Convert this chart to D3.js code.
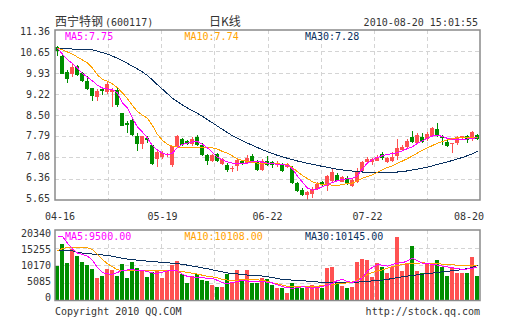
<!DOCTYPE html>
<html><head><meta charset="utf-8">
<script src="https://cdn.jsdelivr.net/npm/d3@7/dist/d3.min.js"></script>
<style>
html,body{margin:0;padding:0;background:#fff;}
svg{display:block;}
text{font-family:"DejaVu Sans Mono",monospace;font-size:10px;}
</style></head><body>
<svg id="chart" width="505" height="330"></svg>
<script>
// Daily K-line of 西宁特钢 (600117), 2010-04-16 .. 2010-08-20
const opens  = [10.78,10.50,9.95,9.89,10.14,9.92,9.66,9.41,9.10,9.37,9.27,9.27,9.36,8.57,8.23,8.35,7.81,7.54,7.73,7.51,
                7.03,7.08,7.15,6.84,7.45,7.70,7.62,7.54,7.76,7.51,7.15,6.97,7.21,6.86,6.84,6.69,6.78,6.95,6.89,7.14,
                6.97,6.67,6.95,6.92,6.82,6.84,6.75,6.72,6.22,5.99,5.81,5.86,6.03,6.25,6.11,6.28,6.50,6.27,6.38,6.12,
                6.27,6.63,6.91,6.91,6.97,7.21,6.94,6.97,7.13,7.33,7.42,7.78,7.58,7.76,7.69,7.80,8.03,7.79,7.61,7.52,
                7.55,7.72,7.81,7.69,7.82];
const closes = [10.66,9.89,9.72,10.12,9.86,9.64,9.38,9.13,9.32,9.30,9.56,9.36,8.83,8.15,8.16,7.84,7.54,7.81,7.65,6.87,
                7.25,7.22,7.18,7.45,7.79,7.51,7.54,7.70,7.51,7.17,6.97,7.17,6.97,7.02,6.67,6.71,6.98,6.86,7.06,6.95,
                6.67,6.97,6.84,6.82,6.90,6.62,6.86,6.22,5.96,5.83,5.92,6.03,6.20,6.18,6.45,6.58,6.30,6.42,6.21,6.32,
                6.63,6.94,7.02,7.02,7.10,7.05,7.05,7.10,7.39,7.44,7.64,7.61,7.83,7.61,7.86,8.06,7.80,7.72,7.46,7.57,
                7.75,7.80,7.68,7.93,7.70];
const highs  = [10.83,10.52,10.00,10.21,10.20,9.96,9.80,9.41,9.37,9.41,9.60,9.41,9.41,8.57,8.29,8.40,7.90,7.81,7.79,7.51,
                7.28,7.28,7.22,7.45,7.84,7.73,7.68,7.76,7.84,7.56,7.19,7.19,7.24,7.07,6.89,6.79,7.02,7.00,7.17,7.19,
                7.00,7.02,7.12,6.97,6.95,6.89,6.89,6.79,6.25,6.05,5.96,6.07,6.25,6.28,6.50,6.70,6.55,6.47,6.44,6.38,
                6.71,6.96,7.10,7.05,7.17,7.25,7.10,7.25,7.69,7.50,7.69,7.97,7.89,7.89,7.92,8.11,8.23,7.83,7.69,7.57,
                7.80,7.80,7.84,7.97,7.86];
const lows   = [10.48,9.89,9.58,9.79,9.80,9.60,9.35,8.99,8.98,9.17,9.20,8.77,8.77,8.15,7.90,7.81,7.29,7.37,7.56,6.83,
                6.75,7.04,7.10,6.75,7.42,7.45,7.51,7.45,7.45,7.14,6.84,6.94,6.94,6.82,6.59,6.59,6.62,6.82,6.86,6.92,
                6.62,6.62,6.80,6.72,6.75,6.59,6.72,6.18,5.93,5.80,5.65,5.72,6.00,6.13,5.96,6.25,6.28,6.24,6.17,6.08,
                6.23,6.59,6.86,6.82,6.96,7.00,6.90,6.94,6.99,7.28,7.39,7.58,7.55,7.58,7.64,7.77,7.75,7.50,7.42,7.22,
                7.49,7.69,7.56,7.64,7.66];

// price moving averages
const ma5  = [10.75,10.55,10.36,10.24,10.08,9.90,9.77,9.65,9.50,9.41,9.38,9.36,9.25,8.90,8.74,8.40,8.10,7.93,7.73,7.47,
              7.33,7.22,7.17,7.22,7.42,7.52,7.56,7.60,7.62,7.52,7.40,7.25,7.08,7.00,6.93,6.89,6.87,6.86,6.88,6.95,
              6.95,6.92,6.89,6.87,6.85,6.83,6.82,6.70,6.45,6.25,6.05,5.98,6.02,6.10,6.16,6.24,6.30,6.34,6.36,6.38,
              6.47,6.70,6.90,7.00,7.08,7.14,7.18,7.21,7.24,7.30,7.38,7.44,7.55,7.64,7.72,7.80,7.83,7.78,7.72,7.69,
              7.69,7.69,7.70,7.72,7.75];
const ma10 = [10.74,10.70,10.62,10.55,10.45,10.35,10.25,10.08,9.85,9.70,9.64,9.55,9.42,9.25,9.05,8.82,8.62,8.50,8.40,8.15,
              7.85,7.65,7.52,7.46,7.43,7.42,7.42,7.41,7.40,7.40,7.40,7.40,7.36,7.28,7.22,7.13,7.03,6.98,6.95,6.92,
              6.89,6.89,6.88,6.88,6.87,6.85,6.83,6.74,6.60,6.47,6.37,6.26,6.20,6.17,6.16,6.15,6.14,6.17,6.20,6.22,
              6.30,6.38,6.44,6.50,6.58,6.67,6.74,6.80,6.88,6.96,7.04,7.13,7.23,7.32,7.40,7.48,7.56,7.62,7.67,7.71,
              7.74,7.75,7.75,7.74,7.74];
const ma30 = [10.73,10.73,10.73,10.72,10.72,10.72,10.71,10.69,10.65,10.60,10.55,10.48,10.41,10.33,10.24,10.14,10.05,9.95,9.83,9.68,
              9.52,9.37,9.22,9.07,8.95,8.84,8.74,8.65,8.56,8.46,8.35,8.24,8.13,8.02,7.91,7.81,7.72,7.64,7.56,7.49,
              7.41,7.34,7.27,7.21,7.15,7.10,7.05,7.01,6.96,6.92,6.88,6.85,6.81,6.78,6.75,6.71,6.68,6.66,6.64,6.62,
              6.60,6.59,6.58,6.58,6.58,6.58,6.58,6.58,6.59,6.60,6.63,6.66,6.69,6.72,6.75,6.80,6.85,6.89,6.93,6.98,
              7.03,7.08,7.14,7.20,7.28];

// daily volume and its moving averages
const volumes = [9980,16160,10840,14730,12740,11120,10170,9030,6560,7130,9030,8745,7030,10455,6560,11120,9505,8555,6845,8270,
                 8745,6560,8900,10200,11300,7600,4940,7030,7600,5890,5610,4470,3990,3990,7600,4940,8745,6080,8745,5130,
                 4940,6370,6080,4470,3520,3710,2280,4940,4180,3520,4180,4470,4180,3520,9410,9695,5130,4280,3520,3990,
                 11120,12070,11786,6844,10836,9695,7794,9695,18250,8550,10640,15590,8550,7790,10640,10640,11700,9700,7030,9700,
                 7980,7980,7980,12550,7030];
const vma5  = [18500,18500,16500,14900,13700,13300,12800,11600,9500,8000,7700,7550,8100,8650,8800,8900,8700,8700,8300,7950,
               7850,8150,8550,8700,8550,7600,6950,6800,6650,6550,6450,6350,5800,5100,4950,5130,5500,5800,5600,5450,
               5420,5420,5300,5050,4500,3990,3700,3520,3700,3990,3800,3550,3700,4100,4400,5000,5800,6050,5450,5250,
               5700,6550,8500,9600,10360,10200,9900,10400,10800,10850,11500,12200,11500,10700,10600,10450,10200,9950,9700,9450,
               9200,9000,9100,9300,9500];
const vma10 = [14300,15000,15300,15400,15400,15350,15200,14700,13200,11800,10600,9700,8900,8600,8550,8550,8550,8550,8550,8550,
               8550,8600,8700,8745,8600,8350,8100,7850,7600,7300,7000,6800,6500,6100,5900,5890,5890,5950,6050,6050,
               5950,5850,5500,5100,4800,4400,4050,3990,3990,3990,3990,3990,4100,4300,4450,4600,4800,4950,5100,5350,
               5900,6700,7500,8100,8600,8800,9300,9800,10100,10400,10650,10750,10800,10840,10800,10700,10600,10500,10400,10300,
               10200,10150,10120,10110,10108];
const vma30 = [14450,14450,14450,14300,13900,13700,13500,13400,13300,13150,13020,12750,12450,12200,11950,11790,11650,11500,11350,11200,
               11120,11000,10900,10750,10650,10400,10200,9950,9700,9400,9150,8850,8550,8250,7950,7790,7650,7500,7350,7300,
               7250,7050,6850,6600,6350,6080,5980,5880,5790,5700,5580,5450,5350,5250,5150,5130,5130,5130,5130,5200,
               5300,5420,5530,5650,5780,5890,6100,6350,6600,6840,7050,7250,7420,7600,7750,7900,8080,8270,8420,8600,
               8760,8930,9200,9600,10145];

// axis ticks
const priceTicks = [11.36,10.65,9.93,9.22,8.50,7.79,7.08,6.36,5.65];
const volTicks   = [20340,15255,10170,5085,0];
const dateTicks  = [{i:0,label:"04-16"},{i:21,label:"05-19"},{i:42,label:"06-22"},{i:62,label:"07-22"},{i:84,label:"08-20"}];

const RED = "#ff5151", GREEN = "#008e00";
const C5 = "#ff00ff", C10 = "#ffa200", C30 = "#0a3160";
const TXT = "#333";

const L = 55, R = 480, pTop = 30, pBot = 200, vTop = 230, vBot = 300.5;
const svg = d3.select("#chart");
svg.append("rect").attr("width", 505).attr("height", 330).attr("fill", "#fff");

const n = closes.length;
const x = d3.scaleBand().domain(d3.range(n)).range([L, R]).paddingInner(0.2).paddingOuter(0.1);
const cx = i => x(i) + x.bandwidth() / 2;
const y = d3.scaleLinear().domain([d3.min(priceTicks), d3.max(priceTicks)]).range([pBot, pTop]);
const yv = d3.scaleLinear().domain([0, d3.max(volTicks)]).range([vBot, vTop]);
const col = d3.scaleLinear().domain([0, 8]).range([L, R]);

// dashed grid
function grid(yScale, ticks, top, bot) {
  const g = svg.append("g").attr("stroke", "#d4d4d4").attr("stroke-dasharray", "4,3").attr("shape-rendering", "crispEdges");
  ticks.slice(1, -1).forEach(t => {
    g.append("line").attr("x1", L).attr("x2", R).attr("y1", Math.round(yScale(t)) + 0.5).attr("y2", Math.round(yScale(t)) + 0.5);
  });
  d3.range(1, 8).forEach(k => {
    g.append("line").attr("x1", Math.round(col(k)) + 0.5).attr("x2", Math.round(col(k)) + 0.5).attr("y1", top).attr("y2", bot);
  });
}
grid(y, priceTicks, pTop, pBot);
grid(yv, volTicks, vTop, vBot);

// candles
const cg = svg.append("g").attr("shape-rendering", "crispEdges");
d3.range(n).forEach(i => {
  const up = closes[i] >= opens[i];
  const c = up ? RED : GREEN;
  const wx = Math.floor(cx(i));
  cg.append("rect").attr("x", wx).attr("width", 1)
    .attr("y", y(highs[i])).attr("height", Math.max(1, y(lows[i]) - y(highs[i]))).attr("fill", c);
  const top = y(Math.max(opens[i], closes[i])), bot = y(Math.min(opens[i], closes[i]));
  cg.append("rect").attr("x", wx - 2).attr("width", 4)
    .attr("y", top).attr("height", Math.max(1, bot - top)).attr("fill", c);
});

// volume bars
const vg = svg.append("g").attr("shape-rendering", "crispEdges");
d3.range(n).forEach(i => {
  vg.append("rect").attr("x", Math.floor(cx(i)) - 2).attr("width", 4)
    .attr("y", yv(volumes[i])).attr("height", vBot - yv(volumes[i]))
    .attr("fill", closes[i] >= opens[i] ? RED : GREEN);
});

// moving average lines, drawn without anti-aliasing
function maLine(vals, scale, color) {
  const line = d3.line().x((d, i) => cx(i)).y(d => scale(d));
  svg.append("path").attr("d", line(vals)).attr("fill", "none").attr("stroke", color)
    .attr("stroke-width", 1).attr("shape-rendering", "crispEdges");
}
maLine(ma30, y, C30); maLine(ma10, y, C10); maLine(ma5, y, C5);
maLine(vma30, yv, C30); maLine(vma10, yv, C10); maLine(vma5, yv, C5);

// frames
[[pTop, pBot], [vTop, vBot]].forEach(([t, b]) => {
  svg.append("rect").attr("x", L).attr("y", t).attr("width", R - L).attr("height", b - t)
    .attr("fill", "none").attr("stroke", "#8a8a8a").attr("stroke-width", 1.5);
});

// axis labels
const yl = d3.scaleLinear().domain(y.domain()).range([198.3, 31.7]);
priceTicks.forEach(t => {
  svg.append("text").attr("x", 50).attr("y", yl(t)).attr("dy", "0.36em").attr("text-anchor", "end")
    .attr("fill", TXT).text(t.toFixed(2));
});
const yvl = d3.scaleLinear().domain(yv.domain()).range([297, 233]);
volTicks.forEach(t => {
  svg.append("text").attr("x", 51).attr("y", yvl(t)).attr("dy", "0.36em").attr("text-anchor", "end")
    .attr("fill", TXT).text(t);
});
dateTicks.forEach(d => {
  const half = 15;
  const px = Math.min(Math.max(cx(d.i), 45 + half), 484 - half);
  svg.append("text").attr("x", px).attr("y", 220).attr("text-anchor", "middle").attr("fill", TXT).text(d.label);
});

// header
const title = svg.append("text").attr("x", 55).attr("y", 26).attr("fill", TXT);
title.append("tspan").style("font-family", "'Noto Sans CJK SC'").style("font-size", "12px").text("西宁特钢");
title.append("tspan").attr("dx", 2).text("(600117)");
svg.append("text").attr("x", 225).attr("y", 26).attr("text-anchor", "middle").attr("fill", TXT)
  .style("font-family", "'Noto Sans CJK SC'").style("font-size", "12px").text("日K线");
svg.append("text").attr("x", 478).attr("y", 26).attr("text-anchor", "end").attr("fill", TXT).text("2010-08-20 15:01:55");

// legends
const fmt2 = d3.format(".2f");
[[ma5, "MA5", C5, 65], [ma10, "MA10", C10, 184.5], [ma30, "MA30", C30, 305]].forEach(([a, k, c, lx]) => {
  svg.append("text").attr("x", lx).attr("y", 40).attr("fill", c).text(k + ":" + fmt2(a[a.length - 1]));
});
[[vma5, "MA5", C5, 65], [vma10, "MA10", C10, 184.5], [vma30, "MA30", C30, 305]].forEach(([a, k, c, lx]) => {
  svg.append("text").attr("x", lx).attr("y", 240).attr("fill", c).text(k + ":" + fmt2(a[a.length - 1]));
});

// footer
svg.append("text").attr("x", 55).attr("y", 315).attr("fill", TXT).text("Copyright 2010 QQ.COM");
svg.append("text").attr("x", 480).attr("y", 315).attr("text-anchor", "end").attr("fill", TXT).text("http://stock.qq.com");
</script>
</body></html>
